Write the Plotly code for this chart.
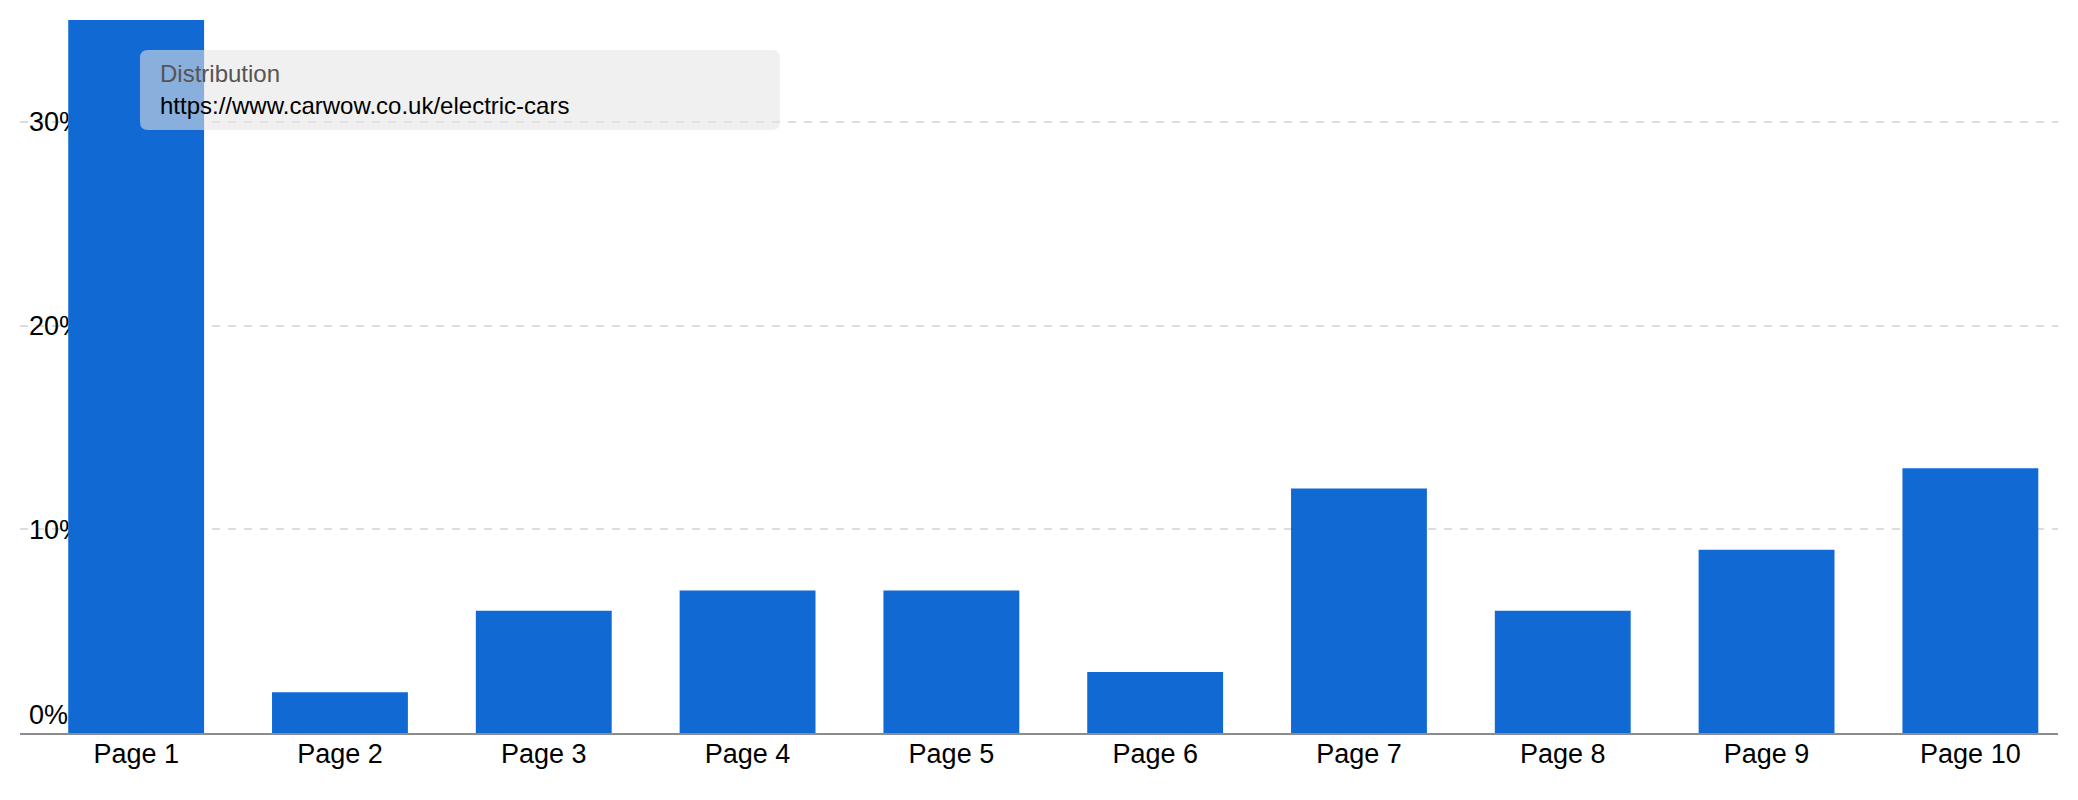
import plotly.graph_objects as go

pages = ["Page 1", "Page 2", "Page 3", "Page 4", "Page 5",
         "Page 6", "Page 7", "Page 8", "Page 9", "Page 10"]
share = [35, 2, 6, 7, 7, 3, 12, 6, 9, 13]
y_ticks = [10, 20, 30]
y_labels = ["10%", "20%", "30%"]
zero_tick = [0]
zero_label = ["0%"]
tip_title = "Distribution"
tip_url = "https://www.carwow.co.uk/electric-cars"

# page body keeps its 8px margin, so the figure sits 8px in
OFF = 8
W, H = 2078 - 2 * OFF, 800 - 2 * OFF
L, R, T, B = 20, 2058, 20, 733   # plot area in window pixels


def px(x):
    return (x - L) / (R - L)


def py(y):
    return (B - y) / (B - T)


def rounded_box(x0, y0, x1, y1, r):
    pts = [
        f"M {px(x0 + r)} {py(y0)}",
        f"L {px(x1 - r)} {py(y0)}",
        f"Q {px(x1)} {py(y0)} {px(x1)} {py(y0 + r)}",
        f"L {px(x1)} {py(y1 - r)}",
        f"Q {px(x1)} {py(y1)} {px(x1 - r)} {py(y1)}",
        f"L {px(x0 + r)} {py(y1)}",
        f"Q {px(x0)} {py(y1)} {px(x0)} {py(y1 - r)}",
        f"L {px(x0)} {py(y0 + r)}",
        f"Q {px(x0)} {py(y0)} {px(x0 + r)} {py(y0)}",
        "Z",
    ]
    return " ".join(pts)


fig = go.Figure()
fig.add_trace(go.Bar(x=pages, y=share, marker_color="#1169d4",
                     marker_line_width=0, hoverinfo="skip"))
# empty trace so the overlay axis carrying the 0% label gets drawn
fig.add_trace(go.Scatter(x=[], y=[], yaxis="y2", hoverinfo="skip"))

fig.update_layout(
    width=W, height=H,
    margin=dict(l=L - OFF, r=W + OFF - R, t=T - OFF, b=H + OFF - B),
    paper_bgcolor="white", plot_bgcolor="white",
    font=dict(family="Arial, Liberation Sans, sans-serif", size=27, color="black"),
    bargap=1 / 3,
    showlegend=False,
)
fig.update_xaxes(
    range=[-0.57, 9.43], showgrid=False, showline=True,
    linecolor="#8c8c8c", linewidth=2, ticks="", fixedrange=True,
    tickfont=dict(size=27, color="black"), ticklabelstandoff=-4,
)
fig.update_layout(
    yaxis=dict(
        range=[0, 35], tickvals=y_ticks, ticktext=y_labels,
        ticklabelposition="inside", layer="below traces", ticklabelstandoff=6,
        showgrid=True, gridcolor="#dcdcdc", gridwidth=2, griddash="8px,8px",
        zeroline=False, showline=False, ticks="", fixedrange=True,
        tickfont=dict(size=27, color="black"),
    ),
    yaxis2=dict(
        overlaying="y", side="left", range=[0, 35],
        tickvals=zero_tick, ticktext=zero_label,
        ticklabelposition="inside top", layer="below traces",
        ticklabelstandoff=6,
        showgrid=False, zeroline=False, showline=False, ticks="", fixedrange=True,
        tickfont=dict(size=27, color="black"),
    ),
)

fig.add_shape(type="path", xref="paper", yref="paper",
              path=rounded_box(140, 50, 780, 130, 8),
              fillcolor="rgba(229,229,229,0.57)", line_width=0, layer="above")

fig.add_annotation(text=tip_title, xref="paper", yref="paper",
                   x=px(158), y=py(73), xanchor="left", yanchor="middle",
                   showarrow=False, font=dict(size=24, color="#555555"))
fig.add_annotation(text=tip_url, xref="paper", yref="paper",
                   x=px(158), y=py(105.5), xanchor="left", yanchor="middle",
                   showarrow=False, font=dict(size=24, color="black"))

fig.write_html("out.html", config={"displayModeBar": False})
